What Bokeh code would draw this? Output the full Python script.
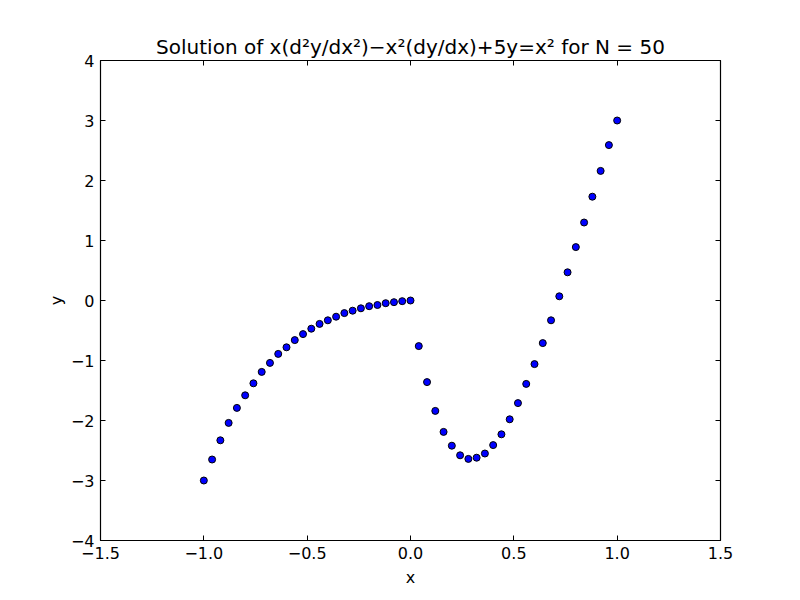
from bokeh.plotting import figure
from bokeh.models import LinearAxis, Range1d, FixedTicker
from bokeh.embed import file_html
from bokeh.resources import INLINE

N = 50
x_vals = [-1.0 + 2.0 * i / N for i in range(N + 1)]
y_vals = [-3.00, -2.65, -2.33, -2.04, -1.79, -1.58, -1.38, -1.19, -1.04, -0.89,
          -0.78, -0.66, -0.56, -0.47, -0.39, -0.33, -0.27, -0.21, -0.17, -0.13,
          -0.095, -0.075, -0.045, -0.028, -0.011, 0.0,
          -0.76, -1.36, -1.84, -2.19, -2.42, -2.58, -2.64, -2.62, -2.55, -2.41,
          -2.23, -1.98, -1.71, -1.39, -1.06, -0.71, -0.33, 0.07, 0.47, 0.89,
          1.30, 1.73, 2.16, 2.59, 3.00]
x_ticks = [-1.5, -1.0, -0.5, 0.0, 0.5, 1.0, 1.5]
x_tick_labels = {-1.5: "\u22121.5", -1.0: "\u22121.0", -0.5: "\u22120.5", 0.0: "0.0",
                 0.5: "0.5", 1.0: "1.0", 1.5: "1.5"}
y_ticks = [-4, -3, -2, -1, 0, 1, 2, 3, 4]
y_tick_labels = {t: (str(t).replace("-", "\u2212")) for t in y_ticks}
title_text = "Solution of x(d\u00b2y/dx\u00b2)\u2212x\u00b2(dy/dx)+5y=x\u00b2 for N = 50"

FONT = "DejaVu Sans"

p = figure(width=792, height=592, output_backend="svg", toolbar_location=None,
           x_range=Range1d(-1.5, 1.5), y_range=Range1d(-4, 4),
           x_axis_label="x", y_axis_label="y")
p.frame_width = 620
p.frame_height = 480
p.min_border_left = 100
p.min_border_right = 72
p.min_border_top = 60
p.min_border_bottom = 52
p.grid.visible = False
p.outline_line_color = "black"
p.outline_line_width = 1.2
p.background_fill_color = "white"
p.border_fill_color = "white"

p.title.text = title_text
p.title.text_font = FONT
p.title.text_font_size = "20px"
p.title.text_font_style = "normal"
p.title.text_color = "black"
p.title.align = "center"
p.title.standoff = 4

for ax, ticks, labels in ((p.xaxis[0], x_ticks, x_tick_labels), (p.yaxis[0], y_ticks, y_tick_labels)):
    ax.ticker = FixedTicker(ticks=ticks)
    ax.major_label_overrides = labels
    ax.major_tick_in = 5
    ax.major_tick_out = 0
    ax.minor_tick_line_color = None
    ax.axis_line_color = None
    ax.major_tick_line_color = "black"
    ax.major_label_text_font = FONT
    ax.major_label_text_font_size = "16px"
    ax.major_label_text_color = "black"
    ax.axis_label_text_font = FONT
    ax.axis_label_text_font_size = "16px"
    ax.axis_label_text_font_style = "normal"
    ax.axis_label_text_color = "black"
    ax.major_label_standoff = 6

p.xaxis[0].axis_label_standoff = 6
p.yaxis[0].axis_label_standoff = 2

top = LinearAxis(ticker=FixedTicker(ticks=x_ticks))
right = LinearAxis(ticker=FixedTicker(ticks=y_ticks))
for ax in (top, right):
    ax.major_tick_in = 5
    ax.major_tick_out = 0
    ax.minor_tick_line_color = None
    ax.axis_line_color = None
    ax.major_label_text_font_size = "0px"
    ax.major_label_text_color = None
p.add_layout(top, "above")
p.add_layout(right, "right")

p.scatter(x_vals, y_vals, size=7, fill_color="#0000ff", line_color="black", line_width=1)

open("out.html", "w").write(file_html(p, INLINE))
